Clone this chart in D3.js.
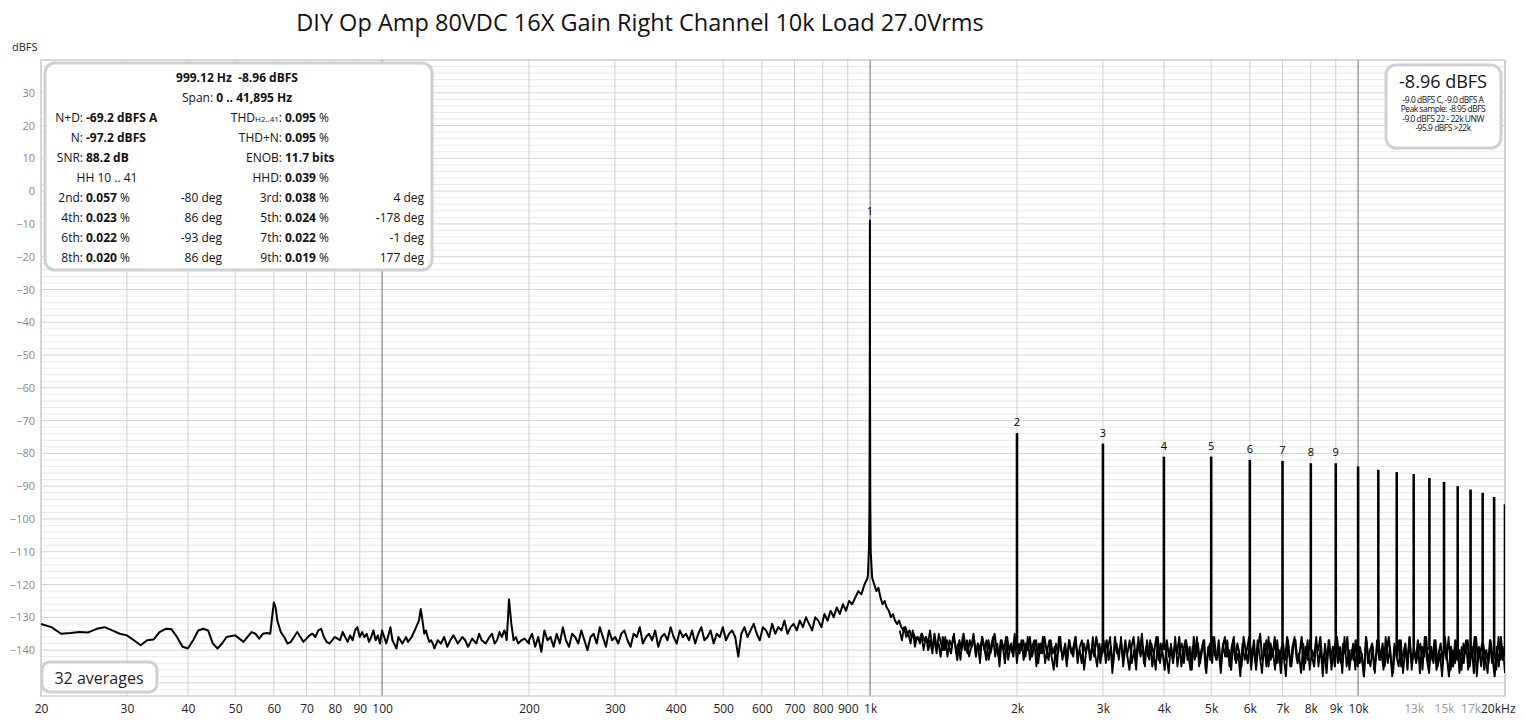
<!DOCTYPE html>
<html><head><meta charset="utf-8">
<script src="https://cdn.jsdelivr.net/npm/d3@7"></script>
<style>body{margin:0;background:#fff}svg{display:block;font-family:"Open Sans","Noto Sans",sans-serif}</style>
</head><body><svg id="c" width="1526" height="721"></svg>
<script>
const title = "DIY Op Amp 80VDC 16X Gain Right Channel 10k Load 27.0Vrms";
const yTicks = [30,20,10,0,-10,-20,-30,-40,-50,-60,-70,-80,-90,-100,-110,-120,-130,-140];
const xTickVals = [20,30,40,50,60,70,80,90,100,200,300,400,500,600,700,800,900,1000,2000,3000,4000,5000,6000,7000,8000,9000,10000,13000,15000,17000,20000];
const xTickLabels = ["20","30","40","50","60","70","80","90","100","200","300","400","500","600","700","800","900","1k","2k","3k","4k","5k","6k","7k","8k","9k","10k","13k","15k","17k","20kHz"];
const grayLabels = ["13k","15k","17k"];
// low frequency section (Hz, dBFS)
const lowFreq = [20,21,22,23,24,25,26,27,28,29,30,31,32,33,34,35,36,37,38,39,40,41,42,43,44,45,46,47,48,50,52,53,54,55,56,57,58,59,59.5,60,60.5,61,62,63,64,65,66,67,68,69,70,71,72,73,74,75,76,77,78,79,80,81,82,83,84,85,86,87,88,89,90,91,92,93,94,95,96,97,98,99,100,102,104,105,107,108,110,112,113,115,117,119,120,121,122,123,124,125,126,127,128,130,132,134,136,138,140,143,146,148,150,153,156,158,160,163,166,168,170,172,174,176,178,179,180,181,182,184,186,188,190,193,196,200];
const lowDb =   [-132,-133,-135,-134.8,-134.5,-134.6,-133.5,-133,-134,-135,-135.5,-137,-138.5,-137,-136.8,-134.5,-133.5,-133.6,-136,-139,-139.5,-137,-134,-133.5,-134,-138,-139.5,-138,-136,-135.5,-137.5,-136,-134.5,-135,-136.5,-135,-134.8,-135,-130,-125.5,-127,-131,-134.5,-136,-138,-137.5,-136,-134.5,-136,-137.5,-136.5,-135.5,-135,-136,-134,-133.5,-136,-137.5,-138,-137,-136,-136.5,-137,-134.5,-136,-137.5,-135.5,-137,-134,-133,-136,-134.5,-136,-135,-137.5,-136,-134,-137,-135.5,-138,-134,-138,-133,-137,-139.5,-136,-138,-136,-137.5,-136,-133.5,-131,-127.5,-131,-135,-134,-136,-137.5,-137,-138,-139.5,-137,-138,-136,-139,-137,-135.5,-138,-136,-137,-139,-136.5,-138,-135,-137,-138,-136,-135,-138,-137,-134.5,-136,-134,-135,-137,-131,-124.5,-132,-137,-136,-138,-137,-136.5,-138,-140,-137.5];
// 200 Hz .. 988 Hz noise, log-spaced samples
const midStart = 200, midEnd = 988;
const midDb = [-137,-135,-139,-136,-140.5,-134,-137,-136,-139,-135,-138,-133,-137,-139,-135,-136,-138,-134,-137,-140,-136,-135,-138,-133,-136,-139,-134,-137,-136,-138,-135,-134,-137,-139,-135,-136,-133,-138,-136,-135,-137,-134,-139,-136,-135,-137,-133,-136,-138,-134,-136,-135,-137,-134,-138,-135,-133,-137,-136,-134,-138,-135,-136,-133,-137,-135,-134,-136,-142,-135,-133,-136,-134,-132,-135,-137,-133,-134,-136,-132,-135,-133,-134,-131,-135,-133,-132,-134,-131,-133,-130,-132,-134,-130,-131,-133,-129,-131,-128,-130,-127,-129,-126,-128,-125,-126,-124,-122,-123,-120,-118];
// fundamental
const fundFreq = [990,995,997,998.5,999.12,999.8,1001,1003,1008];
const fundDb = [-117,-108,-95,-60,-8.96,-60,-95,-110,-116];
// 1010 Hz .. 20 kHz noise, log-spaced samples
const hiStart = 1010, hiEnd = 20000;
const hiDb = [-118,-120,-122,-121,-124,-126,-125,-127,-128,-130,-129,-131,-132,-131,-133,-134,-133,-135,-134,-136,-135,-137,-136,-138,-135,-137,
-136,-140,-137,-141,-135,-139,-138,-142,-136,-140,-137,-139,-141,-136,-138,-143,-137,-140,-135,-139,
-141,-137,-139,-136,-142,-138,-140,-136,-139,-143,-137,-141,-138,-135,-140,-142,-137,-139,-144,-136,
-140,-138,-142,-136,-139,-141,-137,-143,-138,-140,-136,-142,-139,-137,-144,-138,-141,-136,-140,-143,
-137,-141,-139,-145,-136,-140,-142,-138,-143,-137,-141,-139,-136,-142,-140,-144,-138,-141,-137,-143,
-139,-142,-136,-140,-144,-138,-141,-137,-143,-139,-145,-136,-141,-140,-138,-143,-137,-142,-146,-139,
-136,-143,-138,-141,-135,-144,-139,-142,-137,-145,-140,-136,-143,-138,-141,-146,-137,-142,-139,-144,
-138,-141,-136,-145,-140,-137,-143,-139,-146,-136,-142,-138,-144,-140,-137,-147,-139,-143,-136,-141,
-143,-137,-145,-139,-136,-142,-140,-146,-137,-143,-138,-141,-145,-136,-140,-144,-138,-142,-137,-146,
-139,-135,-143,-141,-137,-145,-138,-142,-136,-144,-140,-147,-138,-143,-136,-141,-145,-139,-137,-144,
-141,-136,-146,-139,-143,-137,-142,-145,-138,-140,-136,-144,-141,-147,-137,-143,-139,-145,-136,-142,
-144,-138,-141,-136,-146,-140,-143,-137,-145,-139,-142,-148,-136,-144,-140,-138,-146,-141,-137,-143,
-138,-145,-140,-136,-143,-147,-139,-142,-137,-145,-141,-138,-146,-136,-144,-140,-143,-137,-147,-139,
-142,-136,-145,-139,-143,-137,-146,-141,-138,-144,-136,-142,-148,-139,-145,-137,-143,-140,-146,-138,
-141,-137,-145,-139,-147,-136,-143,-141,-138,-146,-140,-144,-137,-142,-148,-139,-145,-136,-143,-140];
// second pass of the dense 1.2 kHz .. 20 kHz noise band
const hi2Start = 1150, hi2End = 20000;
const hi2Db = [-134,-137,-133,-136,-135,-138,-134,-139,-136,-137,-135,-140,-136,-138,-134,-139,-137,-141,-135,-138,
-140,-136,-142,-137,-139,-135,-141,-138,-143,-136,-140,-137,-142,-139,-135,-141,-138,-144,-136,-140,
-137,-143,-139,-136,-142,-138,-145,-137,-140,-136,-143,-139,-141,-135,-144,-138,-140,-137,-142,-136,
-143,-139,-137,-145,-138,-141,-136,-144,-140,-137,-142,-146,-138,-141,-136,-143,-139,-145,-137,-140,
-142,-136,-144,-139,-137,-146,-140,-138,-143,-136,-141,-145,-138,-142,-137,-144,-139,-136,-147,-140,
-138,-143,-136,-145,-139,-141,-137,-144,-140,-146,-136,-142,-139,-145,-137,-143,-138,-141,-146,-136,
-144,-139,-137,-142,-147,-138,-143,-136,-145,-140,-138,-144,-137,-141,-146,-139,-143,-136,-145,-140,
-137,-146,-141,-138,-144,-136,-143,-140,-147,-138,-142,-137,-145,-139,-136,-144,-141,-148,-138,-143,
-140,-136,-146,-139,-144,-137,-142,-147,-138,-145,-136,-143,-140,-146,-137,-144,-139,-142,-148,-137,
-145,-139,-136,-143,-141,-147,-138,-144,-137,-146,-140,-142,-136,-145,-139,-148,-138,-143,-137,-146,
-141,-137,-144,-139,-147,-136,-145,-140,-143,-138,-146,-137,-144,-141,-148,-136,-142,-145,-139,-147,
-137,-143,-140,-146,-136,-144,-139,-148,-138,-142,-145,-137,-147,-140,-143,-136,-146,-139,-144,-141,
-138,-146,-136,-143,-147,-139,-144,-137,-145,-141,-148,-138,-143,-136,-146,-140,-144,-137,-147,-139,
-144,-137,-146,-140,-142,-136,-148,-139,-145,-138,-143,-147,-137,-144,-140,-146,-136,-143,-139,-147];
// harmonics
const harmFreq = [2000,3000,4000,5000,6000,7000,8000,9000,10000,11000,12000,13000,14000,15000,16000,17000,18000,19000,20000];
const harmDb = [-73.8,-77,-81,-81,-82,-82.3,-83,-83,-84,-85,-85.7,-86.3,-87.5,-88.7,-90,-91,-92,-93.3,-95.5];
const fundLabel = {f:999.12, db:-8.96, n:"1"};
const harmLabels = ["2","3","4","5","6","7","8","9"];

const svg = d3.select("#c");
const x = d3.scaleLog().domain([20,20000]).range([41,1505]);
const y = d3.scaleLinear().domain([40,-154]).range([60,696]);
const X0=41,X1=1505,Y0=60,Y1=696;

// grid
const g = svg.append("g");
for (let v=-154; v<=40; v+=2) g.append("line").attr("x1",X0).attr("x2",X1).attr("y1",y(v)).attr("y2",y(v)).attr("stroke",v%10===0?"#d4d4d4":"#e9e9e9").attr("stroke-width",1);
const vlines=[];
for (let d of [10,100,1000,10000]) for (let k=1;k<10;k++){const f=d*k; if(f>=20&&f<=20000) vlines.push(f);}
vlines.push(20000);
vlines.forEach(f=>{const dark=[100,1000,10000].includes(f);g.append("line").attr("x1",x(f)).attr("x2",x(f)).attr("y1",Y0).attr("y2",Y1).attr("stroke",dark?"#707070":"#cfcfcf").attr("stroke-width",1);});
svg.append("rect").attr("x",X0).attr("y",Y0).attr("width",X1-X0).attr("height",Y1-Y0).attr("fill","none").attr("stroke","#c8c8c8");

// axes labels
const yAxis = d3.axisLeft(y).tickValues(yTicks).tickSize(0).tickPadding(6);
const ya = svg.append("g").attr("transform",`translate(${X0},0)`).call(yAxis);
ya.select(".domain").remove();
ya.selectAll("text").attr("fill","#888").style("font-size","11px").style("font-family","'Open Sans'");
const xAxis = d3.axisBottom(x).tickValues(xTickVals).tickSize(0).tickPadding(8).tickFormat((d,i)=>xTickLabels[i]);
const xa = svg.append("g").attr("transform",`translate(0,${Y1})`).call(xAxis);
xa.select(".domain").remove();
xa.selectAll("text").attr("fill",(d,i)=>grayLabels.includes(xTickLabels[i])?"#999":"#222").style("font-size","12px").style("font-family","'Open Sans'");
xa.selectAll("text").filter((d,i)=>i===xTickLabels.length-1).attr("text-anchor","end").attr("dx","10");
svg.append("text").attr("x",12).attr("y",51).text("dBFS").style("font-size","11px").attr("fill","#222");
svg.append("text").attr("x",640).attr("y",31).attr("text-anchor","middle").text(title).style("font-size","23.5px").attr("fill","#111");

// data line
const pts=[];
lowFreq.forEach((f,i)=>pts.push([f,lowDb[i]]));
const nm=midDb.length;
midDb.forEach((v,i)=>pts.push([midStart*Math.pow(midEnd/midStart,i/(nm-1)),v]));
fundFreq.forEach((f,i)=>pts.push([f,fundDb[i]]));
const nh=hiDb.length;
hiDb.forEach((v,i)=>pts.push([hiStart*Math.pow(hiEnd/hiStart,i/(nh-1)),v]));
const pts2 = hi2Db.map((v,i)=>[hi2Start*Math.pow(hi2End/hi2Start,i/(hi2Db.length-1)),v]);
svg.append("clipPath").attr("id","cp").append("rect").attr("x",X0).attr("y",Y0).attr("width",X1-X0).attr("height",Y1-Y0);
const plot = svg.append("g").attr("clip-path","url(#cp)");
const ln = d3.line().x(d=>x(d[0])).y(d=>y(d[1]));
plot.append("path").datum(pts2).attr("d",ln).attr("fill","none").attr("stroke","#000").attr("stroke-width",1.8).attr("stroke-linejoin","round");
plot.append("path").datum(pts).attr("d",ln).attr("fill","none").attr("stroke","#000").attr("stroke-width",2).attr("stroke-linejoin","round");
harmFreq.forEach((f,i)=>{
  plot.append("line").attr("x1",x(f)).attr("x2",x(f)).attr("y1",y(-140)).attr("y2",y(harmDb[i])).attr("stroke","#000").attr("stroke-width",2.6);
});
// peak labels
svg.append("text").attr("x",x(fundLabel.f)).attr("y",y(fundLabel.db)-6).attr("text-anchor","middle").text(fundLabel.n).style("font-size","11px");
harmLabels.forEach((n,i)=>svg.append("text").attr("x",x(harmFreq[i])).attr("y",y(harmDb[i])-7).attr("text-anchor","middle").text(n).style("font-size","11px"));

// info box
const box = svg.append("g");
box.append("rect").attr("x",45).attr("y",63).attr("width",387).attr("height",207).attr("rx",10).attr("fill","#fff").attr("stroke","#d0d0d0").attr("stroke-width",3);
function t(xx,yy,parts,anchor){const e=box.append("text").attr("x",xx).attr("y",yy).attr("text-anchor",anchor||"start").style("font-size","12px").attr("fill","#111");parts.forEach(p=>e.append("tspan").text(p[0]).attr("font-weight",p[1]?"bold":"normal"));return e;}
t(237,82,[["999.12 Hz  -8.96 dBFS",1]],"middle").attr("xml:space","preserve");
t(237,102,[["Span: ",0],["0 .. 41,895 Hz",1]],"middle");
const rowsL=[["N+D:","-69.2 dBFS A"],["N:","-97.2 dBFS"],["SNR:"," 88.2 dB"]];
rowsL.forEach((r,i)=>{t(83,122+20*i,[[r[0],0]],"end");t(86,122+20*i,[[r[1],1]]);});
t(107,182,[["HH 10 .. 41",0]],"middle");
const thdE = t(282,122,[["THD",0]],"end"); thdE.append("tspan").text("H2..41").style("font-size","8px"); thdE.append("tspan").text(":");
["THD+N:","ENOB:","HHD:"].forEach((r,i)=>{t(282,142+20*i,[[r,0]],"end");});
t(285,122,[["0.095",1],[" %",0]]);
t(285,142,[["0.095",1],[" %",0]]);
t(285,162,[["11.7 bits",1]]);
t(285,182,[["0.039",1],[" %",0]]);
const hl=[["2nd:","0.057","-80 deg","3rd:","0.038","4 deg"],["4th:","0.023","86 deg","5th:","0.024","-178 deg"],["6th:","0.022","-93 deg","7th:","0.022","-1 deg"],["8th:","0.020","86 deg","9th:","0.019","177 deg"]];
hl.forEach((r,i)=>{const yy=202+20*i;t(83,yy,[[r[0],0]],"end");t(86,yy,[[r[1],1],[" %",0]]);t(222,yy,[[r[2],0]],"end");t(282,yy,[[r[3],0]],"end");t(285,yy,[[r[4],1],[" %",0]]);t(424,yy,[[r[5],0]],"end");});

// right box
const rb = svg.append("g");
rb.append("rect").attr("x",1386).attr("y",65).attr("width",115).attr("height",83).attr("rx",10).attr("fill","#fff").attr("stroke","#d0d0d0").attr("stroke-width",3);
rb.append("text").attr("x",1443).attr("y",88).attr("text-anchor","middle").text("-8.96 dBFS").style("font-size","18px").attr("fill","#111");
["-9.0 dBFS C, -9.0 dBFS A","Peak sample: -8.95 dBFS","-9.0 dBFS 22 - 22k UNW","-95.9 dBFS >22k"].forEach((s,i)=>rb.append("text").attr("x",1443).attr("y",103+9.3*i).attr("text-anchor","middle").text(s).style("font-size","8.5px").style("letter-spacing","-0.5px").attr("fill","#111"));

// averages box
svg.append("rect").attr("x",42).attr("y",662).attr("width",115).attr("height",30).attr("rx",8).attr("fill","#fff").attr("stroke","#d0d0d0").attr("stroke-width",3);
svg.append("text").attr("x",99).attr("y",684).attr("text-anchor","middle").text("32 averages").style("font-size","16px").attr("fill","#222");
</script></body></html>
